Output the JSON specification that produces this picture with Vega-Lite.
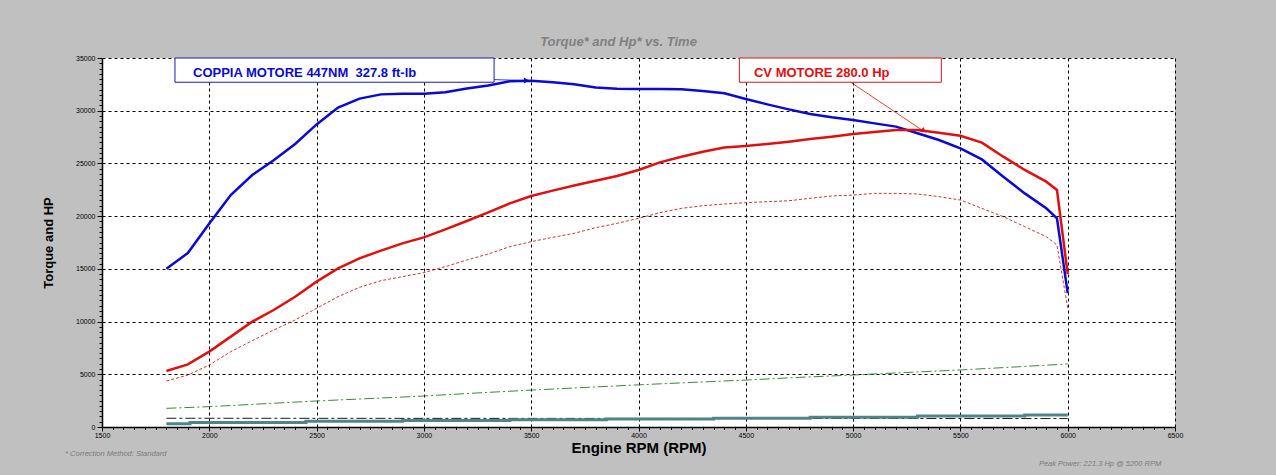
{
  "$schema": "https://vega.github.io/schema/vega-lite/v6.json",
  "width": 1073,
  "height": 369,
  "autosize": {"type": "none"},
  "padding": {"left": 102, "top": 58, "right": 101, "bottom": 48},
  "background": "#c0c0c0",
  "title": {
    "text": "Torque* and Hp* vs. Time",
    "font": "Liberation Sans",
    "fontSize": 13,
    "fontStyle": "italic",
    "fontWeight": "bold",
    "color": "#808080",
    "anchor": "middle",
    "offset": 5,
    "dx": -20
  },
  "datasets": {
    "curves": [
      {"s": "torque", "rpm": 1800, "v": 15000}, {"s": "torque", "rpm": 1900, "v": 16500},
      {"s": "torque", "rpm": 2000, "v": 19300}, {"s": "torque", "rpm": 2100, "v": 22000},
      {"s": "torque", "rpm": 2200, "v": 23900}, {"s": "torque", "rpm": 2300, "v": 25300},
      {"s": "torque", "rpm": 2400, "v": 26850}, {"s": "torque", "rpm": 2500, "v": 28700},
      {"s": "torque", "rpm": 2600, "v": 30300}, {"s": "torque", "rpm": 2700, "v": 31150},
      {"s": "torque", "rpm": 2800, "v": 31550}, {"s": "torque", "rpm": 2900, "v": 31600},
      {"s": "torque", "rpm": 3000, "v": 31600}, {"s": "torque", "rpm": 3100, "v": 31750},
      {"s": "torque", "rpm": 3200, "v": 32100}, {"s": "torque", "rpm": 3300, "v": 32400},
      {"s": "torque", "rpm": 3400, "v": 32800}, {"s": "torque", "rpm": 3500, "v": 32850},
      {"s": "torque", "rpm": 3600, "v": 32700}, {"s": "torque", "rpm": 3700, "v": 32500},
      {"s": "torque", "rpm": 3800, "v": 32200}, {"s": "torque", "rpm": 3900, "v": 32090},
      {"s": "torque", "rpm": 4000, "v": 32060}, {"s": "torque", "rpm": 4100, "v": 32060},
      {"s": "torque", "rpm": 4200, "v": 32030}, {"s": "torque", "rpm": 4300, "v": 31870},
      {"s": "torque", "rpm": 4400, "v": 31650}, {"s": "torque", "rpm": 4500, "v": 31110},
      {"s": "torque", "rpm": 4600, "v": 30600}, {"s": "torque", "rpm": 4700, "v": 30130},
      {"s": "torque", "rpm": 4800, "v": 29690}, {"s": "torque", "rpm": 4900, "v": 29370},
      {"s": "torque", "rpm": 5000, "v": 29120}, {"s": "torque", "rpm": 5100, "v": 28800},
      {"s": "torque", "rpm": 5200, "v": 28490}, {"s": "torque", "rpm": 5300, "v": 27860},
      {"s": "torque", "rpm": 5400, "v": 27220}, {"s": "torque", "rpm": 5500, "v": 26430},
      {"s": "torque", "rpm": 5600, "v": 25380}, {"s": "torque", "rpm": 5700, "v": 23740},
      {"s": "torque", "rpm": 5800, "v": 22160}, {"s": "torque", "rpm": 5900, "v": 20740},
      {"s": "torque", "rpm": 5950, "v": 19790}, {"s": "torque", "rpm": 6000, "v": 12700},

      {"s": "power", "rpm": 1800, "v": 5310}, {"s": "power", "rpm": 1900, "v": 5940},
      {"s": "power", "rpm": 2000, "v": 7150}, {"s": "power", "rpm": 2100, "v": 8570},
      {"s": "power", "rpm": 2200, "v": 9990}, {"s": "power", "rpm": 2300, "v": 11100},
      {"s": "power", "rpm": 2400, "v": 12360}, {"s": "power", "rpm": 2500, "v": 13790},
      {"s": "power", "rpm": 2600, "v": 15050}, {"s": "power", "rpm": 2700, "v": 16000},
      {"s": "power", "rpm": 2800, "v": 16730}, {"s": "power", "rpm": 2900, "v": 17420},
      {"s": "power", "rpm": 3000, "v": 17990}, {"s": "power", "rpm": 3100, "v": 18750},
      {"s": "power", "rpm": 3200, "v": 19540}, {"s": "power", "rpm": 3300, "v": 20360},
      {"s": "power", "rpm": 3400, "v": 21210}, {"s": "power", "rpm": 3500, "v": 21910},
      {"s": "power", "rpm": 3600, "v": 22420}, {"s": "power", "rpm": 3700, "v": 22900},
      {"s": "power", "rpm": 3800, "v": 23350}, {"s": "power", "rpm": 3900, "v": 23810},
      {"s": "power", "rpm": 4000, "v": 24380}, {"s": "power", "rpm": 4100, "v": 25100},
      {"s": "power", "rpm": 4200, "v": 25640}, {"s": "power", "rpm": 4300, "v": 26110},
      {"s": "power", "rpm": 4400, "v": 26500}, {"s": "power", "rpm": 4500, "v": 26650},
      {"s": "power", "rpm": 4600, "v": 26840}, {"s": "power", "rpm": 4700, "v": 27060},
      {"s": "power", "rpm": 4800, "v": 27320}, {"s": "power", "rpm": 4900, "v": 27540},
      {"s": "power", "rpm": 5000, "v": 27790}, {"s": "power", "rpm": 5100, "v": 27980},
      {"s": "power", "rpm": 5200, "v": 28170}, {"s": "power", "rpm": 5300, "v": 28170},
      {"s": "power", "rpm": 5400, "v": 27920}, {"s": "power", "rpm": 5500, "v": 27630},
      {"s": "power", "rpm": 5600, "v": 26970}, {"s": "power", "rpm": 5700, "v": 25640},
      {"s": "power", "rpm": 5800, "v": 24380}, {"s": "power", "rpm": 5900, "v": 23270},
      {"s": "power", "rpm": 5950, "v": 22480}, {"s": "power", "rpm": 6000, "v": 14500},

      {"s": "power_dash", "rpm": 1800, "v": 4360}, {"s": "power_dash", "rpm": 1900, "v": 4930},
      {"s": "power_dash", "rpm": 2000, "v": 5880}, {"s": "power_dash", "rpm": 2100, "v": 7140},
      {"s": "power_dash", "rpm": 2200, "v": 8190}, {"s": "power_dash", "rpm": 2300, "v": 9200},
      {"s": "power_dash", "rpm": 2400, "v": 10150}, {"s": "power_dash", "rpm": 2500, "v": 11260},
      {"s": "power_dash", "rpm": 2600, "v": 12360}, {"s": "power_dash", "rpm": 2700, "v": 13250},
      {"s": "power_dash", "rpm": 2800, "v": 13880}, {"s": "power_dash", "rpm": 2900, "v": 14260},
      {"s": "power_dash", "rpm": 3000, "v": 14640}, {"s": "power_dash", "rpm": 3100, "v": 15210},
      {"s": "power_dash", "rpm": 3200, "v": 15840}, {"s": "power_dash", "rpm": 3300, "v": 16410},
      {"s": "power_dash", "rpm": 3400, "v": 17100}, {"s": "power_dash", "rpm": 3500, "v": 17580},
      {"s": "power_dash", "rpm": 3600, "v": 17990}, {"s": "power_dash", "rpm": 3700, "v": 18370},
      {"s": "power_dash", "rpm": 3800, "v": 18900}, {"s": "power_dash", "rpm": 3900, "v": 19320},
      {"s": "power_dash", "rpm": 4000, "v": 19790}, {"s": "power_dash", "rpm": 4100, "v": 20330},
      {"s": "power_dash", "rpm": 4200, "v": 20740}, {"s": "power_dash", "rpm": 4300, "v": 20990},
      {"s": "power_dash", "rpm": 4400, "v": 21150}, {"s": "power_dash", "rpm": 4500, "v": 21280},
      {"s": "power_dash", "rpm": 4600, "v": 21370}, {"s": "power_dash", "rpm": 4700, "v": 21460},
      {"s": "power_dash", "rpm": 4800, "v": 21690}, {"s": "power_dash", "rpm": 4900, "v": 21910},
      {"s": "power_dash", "rpm": 5000, "v": 22000}, {"s": "power_dash", "rpm": 5100, "v": 22160},
      {"s": "power_dash", "rpm": 5200, "v": 22160}, {"s": "power_dash", "rpm": 5300, "v": 22100},
      {"s": "power_dash", "rpm": 5400, "v": 21850}, {"s": "power_dash", "rpm": 5500, "v": 21530},
      {"s": "power_dash", "rpm": 5600, "v": 20740}, {"s": "power_dash", "rpm": 5700, "v": 19950},
      {"s": "power_dash", "rpm": 5800, "v": 19000}, {"s": "power_dash", "rpm": 5900, "v": 18050},
      {"s": "power_dash", "rpm": 5950, "v": 17260}, {"s": "power_dash", "rpm": 6000, "v": 11300},

      {"s": "green", "rpm": 1800, "v": 1770}, {"s": "green", "rpm": 2000, "v": 1930},
      {"s": "green", "rpm": 2250, "v": 2200}, {"s": "green", "rpm": 2500, "v": 2470},
      {"s": "green", "rpm": 2750, "v": 2700}, {"s": "green", "rpm": 3000, "v": 2940},
      {"s": "green", "rpm": 3250, "v": 3230}, {"s": "green", "rpm": 3500, "v": 3500},
      {"s": "green", "rpm": 3750, "v": 3750}, {"s": "green", "rpm": 4000, "v": 4000},
      {"s": "green", "rpm": 4250, "v": 4230}, {"s": "green", "rpm": 4500, "v": 4450},
      {"s": "green", "rpm": 4750, "v": 4710}, {"s": "green", "rpm": 5000, "v": 4930},
      {"s": "green", "rpm": 5250, "v": 5170}, {"s": "green", "rpm": 5500, "v": 5410},
      {"s": "green", "rpm": 5750, "v": 5690}, {"s": "green", "rpm": 6000, "v": 5980},

      {"s": "black", "rpm": 1800, "v": 830}, {"s": "black", "rpm": 3000, "v": 820},
      {"s": "black", "rpm": 4500, "v": 810}, {"s": "black", "rpm": 6000, "v": 800}
    ],
    "steps": [
      {"rpm": 1800, "v": 300}, {"rpm": 1910, "v": 430}, {"rpm": 2450, "v": 540},
      {"rpm": 2900, "v": 620}, {"rpm": 3400, "v": 680}, {"rpm": 3850, "v": 750},
      {"rpm": 4350, "v": 840}, {"rpm": 4800, "v": 930}, {"rpm": 5300, "v": 1040},
      {"rpm": 5800, "v": 1140}, {"rpm": 6000, "v": 1140}
    ],
    "boxes": [
      {"s": "torque", "rpm": 1840, "rpm2": 3327, "v": 32700, "v2": 35000},
      {"s": "power", "rpm": 4470, "rpm2": 5411, "v": 32700, "v2": 35000}
    ],
    "labels": [
      {"s": "torque", "rpm": 1924, "v": 33230, "t": "COPPIA MOTORE 447NM \u00a0327.8 ft-lb"},
      {"s": "power", "rpm": 4538, "v": 33230, "t": "CV MOTORE 280.0 Hp"}
    ],
    "arrows": [
      {"s": "torque", "rpm": 3327, "v": 32950, "rpm2": 3470, "v2": 32870},
      {"s": "power", "rpm": 4989, "v": 32700, "rpm2": 5320, "v2": 28180}
    ],
    "heads": [
      {"s": "torque", "rpm": 3478, "v": 32870},
      {"s": "power", "rpm": 5330, "v": 28090}
    ],
    "notes": [
      {"rpm": 1328, "v": -2560, "t": "* Correction Method: Standard"},
      {"rpm": 5866, "v": -3510, "t": "Peak Power: 221.3 Hp @ 5200 RPM"}
    ]
  },
  "layer": [
    {
      "data": {"name": "curves"},
      "transform": [{"filter": "datum.s !== 'torque' && datum.s !== 'power'"}],
      "mark": {"type": "line", "strokeWidth": 0.9, "strokeCap": "butt"},
      "encoding": {
        "x": {
          "field": "rpm",
          "type": "quantitative",
          "scale": {"domain": [1500, 6500], "nice": false, "zero": false},
          "axis": {
            "title": "Engine RPM (RPM)",
            "tickCount": 100,
            "labelExpr": "datum.value % 500 === 0 ? '' + datum.value : ''",
            "labelOverlap": false,
            "labelFlush": false,
            "labelFont": "Liberation Sans",
            "labelFontSize": 7,
            "labelColor": "black",
            "labelPadding": 0,
            "tickColor": "black",
            "tickSize": {"condition": {"test": "datum.value % 500 === 0", "value": 4}, "value": 2.5},
            "domainColor": "black",
            "domainWidth": 1.5,
            "grid": true,
            "gridColor": "black",
            "gridDash": [3, 3],
            "gridOpacity": {"condition": {"test": "datum.value % 500 === 0", "value": 1}, "value": 0},
            "titleFont": "Liberation Sans",
            "titleFontSize": 15,
            "titleFontWeight": "bold",
            "titleColor": "black",
            "titlePadding": 2
          }
        },
        "y": {
          "field": "v",
          "type": "quantitative",
          "scale": {"domain": [0, 35000], "nice": false},
          "axis": {
            "title": "Torque and HP",
            "tickCount": 70,
            "labelExpr": "datum.value % 5000 === 0 ? '' + datum.value : ''",
            "labelOverlap": false,
            "labelFlush": false,
            "labelFont": "Liberation Sans",
            "labelFontSize": 7,
            "labelColor": "black",
            "labelPadding": 2,
            "tickColor": "black",
            "tickSize": {"condition": {"test": "datum.value % 5000 === 0", "value": 5}, "value": 3},
            "domainColor": "black",
            "domainWidth": 1.5,
            "grid": true,
            "gridColor": "black",
            "gridDash": [3, 3],
            "gridOpacity": {"condition": {"test": "datum.value % 5000 === 0", "value": 1}, "value": 0},
            "titleFont": "Liberation Sans",
            "titleFontSize": 13,
            "titleFontWeight": "bold",
            "titleColor": "black",
            "titlePadding": 20
          }
        },
        "color": {
          "field": "s",
          "type": "nominal",
          "scale": {
            "domain": ["torque", "power", "power_dash", "green", "black"],
            "range": ["#0a0ad2", "#e01010", "#c42020", "#237a23", "#000000"]
          },
          "legend": null
        },
        "strokeDash": {
          "field": "s",
          "type": "nominal",
          "scale": {
            "domain": ["power_dash", "green", "black"],
            "range": [[3, 2], [10, 3, 2, 3], [10, 3, 3, 3]]
          },
          "legend": null
        }
      }
    },
    {
      "data": {"name": "steps"},
      "mark": {"type": "line", "interpolate": "step-after", "color": "#4f8585", "strokeWidth": 3},
      "encoding": {
        "x": {"field": "rpm", "type": "quantitative"},
        "y": {"field": "v", "type": "quantitative"}
      }
    },
    {
      "data": {"name": "curves"},
      "transform": [{"filter": "datum.s === 'torque' || datum.s === 'power'"}],
      "mark": {"type": "line", "strokeWidth": 2.5},
      "encoding": {
        "x": {"field": "rpm", "type": "quantitative"},
        "y": {"field": "v", "type": "quantitative"},
        "color": {"field": "s", "type": "nominal", "legend": null}
      }
    },
    {
      "data": {"name": "boxes"},
      "mark": {"type": "rect", "fill": "white", "strokeWidth": 1},
      "encoding": {
        "x": {"field": "rpm", "type": "quantitative"},
        "x2": {"field": "rpm2"},
        "y": {"field": "v", "type": "quantitative"},
        "y2": {"field": "v2"},
        "stroke": {
          "field": "s",
          "type": "nominal",
          "scale": {"domain": ["torque", "power"], "range": ["#1a1ab0", "#d01818"]},
          "legend": null
        }
      }
    },
    {
      "data": {"name": "labels"},
      "mark": {
        "type": "text",
        "align": "left",
        "baseline": "alphabetic",
        "font": "Liberation Sans",
        "fontSize": 13,
        "fontWeight": "bold"
      },
      "encoding": {
        "x": {"field": "rpm", "type": "quantitative"},
        "y": {"field": "v", "type": "quantitative"},
        "text": {"field": "t"},
        "color": {"field": "s", "type": "nominal", "legend": null}
      }
    },
    {
      "data": {"name": "arrows"},
      "mark": {"type": "rule", "strokeWidth": 0.8},
      "encoding": {
        "x": {"field": "rpm", "type": "quantitative"},
        "x2": {"field": "rpm2"},
        "y": {"field": "v", "type": "quantitative"},
        "y2": {"field": "v2"},
        "color": {"field": "s", "type": "nominal", "legend": null}
      }
    },
    {
      "data": {"name": "heads"},
      "transform": [{"filter": "datum.s === 'torque'"}],
      "mark": {"type": "point", "shape": "triangle-right", "filled": true, "size": 35, "opacity": 1},
      "encoding": {
        "x": {"field": "rpm", "type": "quantitative"},
        "y": {"field": "v", "type": "quantitative"},
        "color": {"field": "s", "type": "nominal", "legend": null}
      }
    },
    {
      "data": {"name": "heads"},
      "transform": [{"filter": "datum.s === 'power'"}],
      "mark": {"type": "point", "shape": "triangle-right", "filled": true, "size": 35, "angle": 33, "opacity": 1},
      "encoding": {
        "x": {"field": "rpm", "type": "quantitative"},
        "y": {"field": "v", "type": "quantitative"},
        "color": {"field": "s", "type": "nominal", "legend": null}
      }
    },
    {
      "data": {"name": "notes"},
      "mark": {
        "type": "text",
        "align": "left",
        "baseline": "middle",
        "font": "Liberation Sans",
        "fontSize": 7.5,
        "fontStyle": "italic",
        "color": "#7a7a7a"
      },
      "encoding": {
        "x": {"field": "rpm", "type": "quantitative"},
        "y": {"field": "v", "type": "quantitative"},
        "text": {"field": "t"}
      }
    }
  ],
  "config": {
    "view": {"fill": "white", "stroke": null},
    "font": "Liberation Sans"
  }
}
